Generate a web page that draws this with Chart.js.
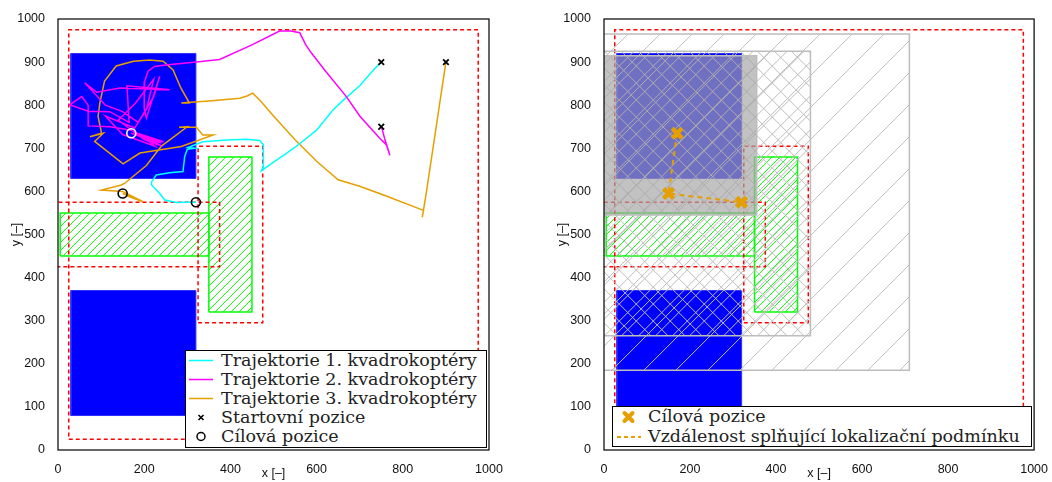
<!DOCTYPE html>
<html>
<head>
<meta charset="utf-8">
<script src="https://cdn.jsdelivr.net/npm/chart.js@4/dist/chart.umd.min.js"></script>
<style>
  body { margin: 0; background: #fff; width: 1052px; height: 482px; position: relative; overflow: hidden; }
  canvas { position: absolute; top: 0; }
  #left { left: 0; }
  #right { left: 530px; }
  .legend { position: absolute; background: #fff; border: 1.5px solid #000; box-sizing: border-box;
            font-family: "DejaVu Serif", serif; font-size: 17.5px; color: #222; }
  .legend .row { position: relative; white-space: nowrap; }
  .legend svg { position: absolute; top: 0; left: 0; }
  #legendLeft { left: 185px; top: 350px; width: 302px; height: 98px; }
  #legendLeft .row { height: 19px; line-height: 19px; padding-left: 35px; }
  #legendRight { left: 612px; top: 406px; width: 420px; height: 41px; }
  #legendRight .row { height: 19.5px; line-height: 19.5px; padding-left: 35px; }
</style>
</head>
<body>
<canvas id="left" width="520" height="482"></canvas>
<canvas id="right" width="522" height="482"></canvas>

<div class="legend" id="legendLeft">
  <div class="row"><svg width="30" height="19"><line x1="3" y1="9.5" x2="27" y2="9.5" stroke="#00ffff" stroke-width="1.5"/></svg>Trajektorie 1. kvadrokoptéry</div>
  <div class="row"><svg width="30" height="19"><line x1="3" y1="9.5" x2="27" y2="9.5" stroke="#ff00ff" stroke-width="1.5"/></svg>Trajektorie 2. kvadrokoptéry</div>
  <div class="row"><svg width="30" height="19"><line x1="3" y1="9.5" x2="27" y2="9.5" stroke="#e69f00" stroke-width="1.5"/></svg>Trajektorie 3. kvadrokoptéry</div>
  <div class="row"><svg width="30" height="19"><path d="M12.5 7 L17.5 12 M17.5 7 L12.5 12" stroke="#000" stroke-width="1.6"/></svg>Startovní pozice</div>
  <div class="row"><svg width="30" height="19"><circle cx="15" cy="9.5" r="4" fill="none" stroke="#000" stroke-width="1.5"/></svg>Cílová pozice</div>
</div>

<div class="legend" id="legendRight">
  <div class="row"><svg width="30" height="20"><path d="M11.5 6 L19.5 14 M19.5 6 L11.5 14" stroke="#e69f00" stroke-width="4" stroke-linecap="round"/></svg>Cílová pozice</div>
  <div class="row"><svg width="30" height="20"><line x1="4" y1="10" x2="28" y2="10" stroke="#e69f00" stroke-width="1.8" stroke-dasharray="4,3"/></svg>Vzdálenost splňující lokalizační podmínku</div>
</div>

<script>
// osy
const xTickStep = 200;
const yTickStep = 100;
const axisMin = 0;
const axisMax = 1000;

// obdelniky [x1, x2, y1, y2]
const waterAreas = [[30, 320, 630, 920], [30, 320, 80, 370]];
const obstacles = [[5, 350, 450, 550], [350, 450, 320, 680]];
const safetyBounds = [[25, 975, 25, 975], [-20, 375, 425, 575], [325, 475, 295, 705]];
// oblasti lokalizace kolem cilu (prava cast)
const sensorRanges = [[-70, 710, 185, 965], [-180, 480, 265, 925], [-15, 355, 545, 915]];

// startovni a cilove pozice
const startX = [750, 900, 750];
const startY = [900, 900, 750];
const goalX = [150, 320];
const goalY = [595, 575];
const goalWhiteX = [170];
const goalWhiteY = [735];

// poradi cilu spojenych lokalizacni podminkou
const linkX = [170, 150, 320];
const linkY = [735, 595, 575];

// trajektorie [x, y]
const traj1 = [
  [750, 900], [735, 885], [700, 845], [660, 810], [638, 789], [600, 742], [560, 710], [530, 688],
  [500, 668], [472, 648], [476, 657], [477, 681], [476, 708], [468, 718], [437, 721], [391, 719],
  [336, 715], [302, 702], [317, 700], [300, 698], [294, 681], [290, 646], [259, 643], [228, 638],
  [217, 622], [217, 615], [236, 595], [248, 580], [275, 574], [298, 575], [320, 575]
];
const traj2 = [
  [750, 752], [758, 722], [770, 684], [762, 708], [746, 724], [700, 775], [669, 820], [620, 880],
  [588, 921], [575, 940], [561, 968], [540, 972], [514, 972], [450, 940], [375, 906], [321, 900],
  [250, 893], [224, 890], [209, 879], [201, 855], [200, 820], [200, 793], [205, 770], [236, 867],
  [222, 820], [186, 760], [150, 785], [110, 800], [62, 852], [90, 830], [143, 840], [259, 836],
  [160, 845], [165, 760], [120, 785], [70, 786], [27, 801], [55, 820], [70, 800], [70, 752],
  [120, 750], [170, 742], [240, 706], [200, 720], [140, 765], [180, 805], [222, 860], [205, 790],
  [178, 747], [110, 775], [150, 732], [225, 705], [200, 725], [240, 712], [185, 733], [230, 708],
  [175, 738], [245, 715], [190, 728], [170, 735]
];
const traj3 = [
  [900, 900], [885, 800], [870, 700], [855, 600], [847, 550], [845, 540], [848, 556], [760, 590],
  [700, 612], [650, 627], [600, 670], [550, 720], [500, 775], [470, 810], [452, 828], [440, 822],
  [422, 816], [350, 810], [300, 806], [286, 805], [305, 805], [285, 840], [267, 882], [244, 902],
  [213, 905], [175, 902], [135, 891], [108, 856], [97, 805], [93, 774], [101, 735], [74, 727],
  [105, 735], [85, 716], [151, 664], [190, 689], [286, 704], [360, 731], [336, 731], [321, 749],
  [281, 749], [300, 750], [240, 705], [205, 660], [155, 619], [147, 615], [101, 603], [150, 600],
  [197, 576], [160, 590], [190, 580], [150, 595]
];

const colors = {
  cyan: '#00ffff',
  magenta: '#ff00ff',
  orange: '#e69f00',
  blue: '#0000ff',
  green: '#00ff00',
  red: '#ff0000',
  hatchGray: '#bdbdbd',
  text: '#111'
};

function rectPoints(r) {
  const [x1, x2, y1, y2] = r;
  return [{x: x1, y: y1}, {x: x2, y: y1}, {x: x2, y: y2}, {x: x1, y: y2}, {x: x1, y: y1}];
}

function rectDataset(r, opts) {
  return Object.assign({
    data: rectPoints(r), showLine: true, pointRadius: 0, tension: 0, fill: false,
    borderWidth: 1.5
  }, opts);
}

function pathDataset(points, color, opts) {
  return Object.assign({
    data: points.map(p => ({x: p[0], y: p[1]})),
    showLine: true, pointRadius: 0, tension: 0, borderColor: color, borderWidth: 1.5, fill: false
  }, opts);
}

function markerDataset(xs, ys, opts) {
  return Object.assign({
    data: xs.map((x, i) => ({x: x, y: ys[i]})),
    showLine: false, pointBackgroundColor: 'rgba(0,0,0,0)'
  }, opts);
}

function mapDatasets() {
  const sets = [];
  waterAreas.forEach(r => sets.push(rectDataset(r, {
    fill: 'shape', backgroundColor: colors.blue, borderColor: '#3030ff', borderWidth: 1, order: 90
  })));
  obstacles.forEach(r => sets.push(rectDataset(r, {
    hatch: {step: 8, color: colors.green, dirs: '/'}, borderColor: colors.green, order: 80
  })));
  safetyBounds.forEach(r => sets.push(rectDataset(r, {
    borderColor: colors.red, borderDash: [4, 3], order: 70
  })));
  return sets;
}

// srafovani obdelniku - kresli se hned pod obrysem datove rady
const hatchPlugin = {
  id: 'hatch',
  beforeDatasetDraw(chart, args) {
    const ds = chart.data.datasets[args.index];
    if (!ds.hatch) return;
    const xs = chart.scales.x, ys = chart.scales.y, a = chart.chartArea;
    const px = ds.data.map(p => xs.getPixelForValue(p.x));
    const py = ds.data.map(p => ys.getPixelForValue(p.y));
    const l = Math.max(Math.min(...px), a.left), r = Math.min(Math.max(...px), a.right);
    const t = Math.max(Math.min(...py), a.top), b = Math.min(Math.max(...py), a.bottom);
    const ctx = chart.ctx;
    const h = ds.hatch;
    ctx.save();
    ctx.beginPath();
    ctx.rect(l, t, r - l, b - t);
    ctx.clip();
    ctx.strokeStyle = h.color;
    ctx.lineWidth = h.width || 1;
    ctx.beginPath();
    const span = b - t;
    for (let x = -span - h.step * 2; x < chart.width + span; x += h.step) {
      if (h.dirs.includes('/')) { ctx.moveTo(x, b + 2); ctx.lineTo(x + span + 4, t - 2); }
      if (h.dirs.includes('\\')) { ctx.moveTo(x, t - 2); ctx.lineTo(x + span + 4, b + 2); }
    }
    ctx.stroke();
    ctx.restore();
  }
};

// ramecek kolem grafu
const boxPlugin = {
  id: 'box',
  afterDraw(chart) {
    const a = chart.chartArea;
    const ctx = chart.ctx;
    ctx.save();
    ctx.strokeStyle = '#000';
    ctx.lineWidth = 1.2;
    ctx.strokeRect(a.left, a.top, a.right - a.left, a.bottom - a.top);
    ctx.restore();
  }
};

function axisOptions(padLeft, padRight) {
  const tickFont = {family: '"Liberation Sans", Arial, sans-serif', size: 12.5};
  return {
    responsive: false,
    animation: false,
    devicePixelRatio: 1,
    layout: {padding: {left: padLeft, right: padRight, top: 19, bottom: 0}},
    plugins: {legend: {display: false}, tooltip: {enabled: false}},
    scales: {
      x: {
        type: 'linear', min: axisMin, max: axisMax,
        grid: {display: false}, border: {display: false},
        ticks: {stepSize: xTickStep, color: colors.text, font: tickFont, padding: 4, maxRotation: 0,
                callback: v => String(v)},
        title: {display: true, text: 'x [–]', color: colors.text, font: tickFont, padding: {top: 0, bottom: 1}},
        afterFit(scale) { scale.height = 32; }
      },
      y: {
        type: 'linear', min: axisMin, max: axisMax,
        grid: {display: false}, border: {display: false},
        ticks: {stepSize: yTickStep, color: colors.text, font: tickFont, padding: 5,
                callback: v => String(v)},
        title: {display: true, text: 'y [–]', color: colors.text, font: tickFont, padding: {top: 9, bottom: 0}},
        afterFit(scale) { scale.width = 58; }
      }
    }
  };
}

// levy graf - trajektorie
const leftSets = mapDatasets().concat([
  pathDataset(traj3, colors.orange, {order: 30}),
  pathDataset(traj1, colors.cyan, {order: 29}),
  pathDataset(traj2, colors.magenta, {order: 28}),
  markerDataset(startX, startY, {pointStyle: 'crossRot', pointRadius: 4, pointBorderWidth: 1.8, pointBorderColor: '#000', order: 5}),
  markerDataset(goalX, goalY, {pointStyle: 'circle', pointRadius: 4.5, pointBorderWidth: 1.6, pointBorderColor: '#000', order: 4}),
  markerDataset(goalWhiteX, goalWhiteY, {pointStyle: 'circle', pointRadius: 4.5, pointBorderWidth: 1.6, pointBorderColor: '#fff', order: 3})
]);

new Chart(document.getElementById('left'), {
  type: 'scatter',
  data: {datasets: leftSets},
  options: axisOptions(0, 31),
  plugins: [hatchPlugin, boxPlugin]
});

// pravy graf - lokalizacni oblasti
const rightSets = mapDatasets().concat([
  rectDataset(sensorRanges[0], {hatch: {step: 32, color: colors.hatchGray, dirs: '/'}, borderColor: colors.hatchGray, order: 60}),
  rectDataset(sensorRanges[1], {hatch: {step: 17, color: colors.hatchGray, dirs: '/\\'}, borderColor: colors.hatchGray, order: 59}),
  rectDataset(sensorRanges[2], {fill: 'shape', backgroundColor: 'rgba(165,165,165,0.68)', borderColor: colors.hatchGray, order: 58}),
  markerDataset(linkX, linkY, {showLine: true, borderColor: colors.orange, borderWidth: 2, borderDash: [5, 4], pointRadius: 0, order: 10}),
  markerDataset(linkX, linkY, {pointStyle: 'crossRot', pointRadius: 7, pointBorderWidth: 4.5, pointBorderColor: colors.orange, order: 5})
]);

new Chart(document.getElementById('right'), {
  type: 'scatter',
  data: {datasets: rightSets},
  options: axisOptions(16, 17),
  plugins: [hatchPlugin, boxPlugin]
});
</script>
</body>
</html>
